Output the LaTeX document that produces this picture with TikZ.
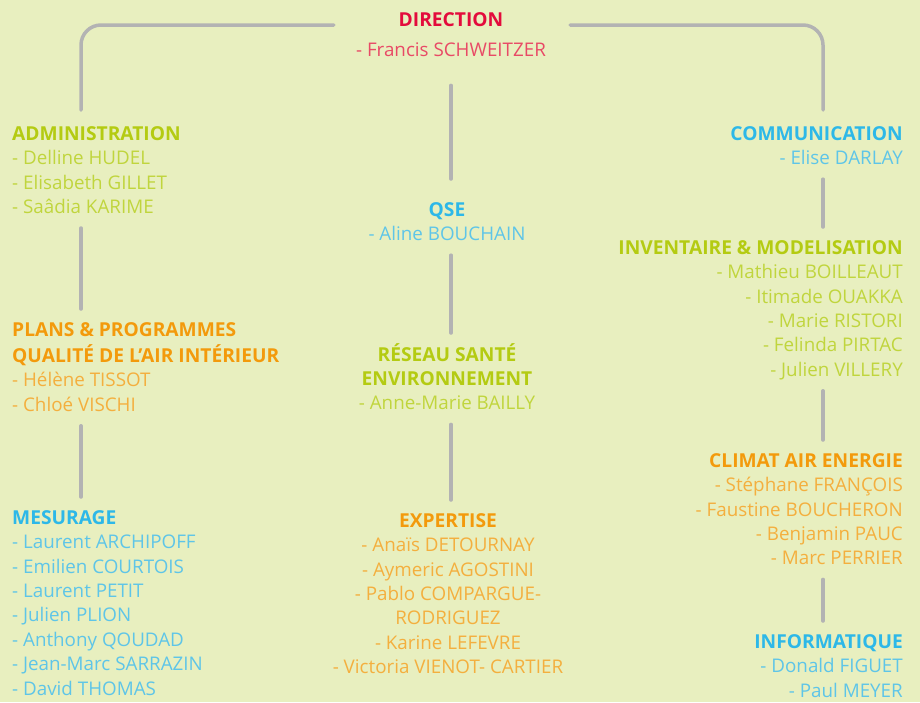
\documentclass[tikz,border=0pt]{standalone}
\usepackage{fontspec}
\setmainfont{Open Sans}
\definecolor{bgyellow}{HTML}{E8EFBF}
\definecolor{linkgrey}{HTML}{B3B3B3}
\definecolor{redhead}{HTML}{E30B3C}
\definecolor{redname}{HTML}{E84A66}
\definecolor{greenhead}{HTML}{B4CB12}
\definecolor{greenname}{HTML}{C0D53D}
\definecolor{bluehead}{HTML}{2DB8E8}
\definecolor{bluename}{HTML}{5EC5E8}
\definecolor{orangehead}{HTML}{F39A0C}
\definecolor{orangename}{HTML}{F4AF3E}
\newcommand{\hd}[2]{\strut\textcolor{#1}{\fontsize{19.2}{24.4}\selectfont\textbf{#2}}}
\tikzset{
  block/.style={inner sep=0pt, font=\fontsize{18.8}{24.4}\selectfont},
  link/.style={line width=3.5pt, color=linkgrey, line cap=round, shorten <=7pt, shorten >=10pt},
}
\begin{document}
\begin{tikzpicture}[x=1pt,y=-1pt]
  \fill[bgyellow] (0,0) rectangle (920,702);
  \useasboundingbox (0,0) rectangle (920,702);
  \coordinate (lx) at (81,0);
  \coordinate (rx) at (823,0);
  % top
  \node[block, font=\fontsize{18.8}{30}\selectfont, anchor=north, align=center, text=redname] (direction) at (451,5)
    {\hd{redhead}{DIRECTION}\\- Francis SCHWEITZER\strut};
  % left column
  \node[block, anchor=north west, align=left, text=greenname] (admin) at (12,123)
    {\hd{greenhead}{ADMINISTRATION}\\- Delline HUDEL\\- Elisabeth GILLET\\- Saâdia KARIME\strut};
  \node[block, anchor=north west, align=left, text=orangename] (plans) at (12,319)
    {\hd{orangehead}{PLANS \& PROGRAMMES}\\\hd{orangehead}{QUALITÉ DE L’AIR INTÉRIEUR}\\- Hélène TISSOT\\- Chloé VISCHI\strut};
  \node[block, anchor=north west, align=left, text=bluename] (mesurage) at (12,507)
    {\hd{bluehead}{MESURAGE}\\- Laurent ARCHIPOFF\\- Emilien COURTOIS\\- Laurent PETIT\\- Julien PLION\\- Anthony QOUDAD\\- Jean-Marc SARRAZIN\\- David THOMAS\strut};
  % centre column
  \node[block, anchor=north, align=center, text=bluename] (qse) at (447,199)
    {\hd{bluehead}{QSE}\\- Aline BOUCHAIN\strut};
  \node[block, anchor=north, align=center, text=greenname] (reseau) at (447,343)
    {\hd{greenhead}{RÉSEAU SANTÉ}\\\hd{greenhead}{ENVIRONNEMENT}\\- Anne-Marie BAILLY\strut};
  \node[block, anchor=north, align=center, text=orangename] (expertise) at (448,510)
    {\hd{orangehead}{EXPERTISE}\\- Anaïs DETOURNAY\\- Aymeric AGOSTINI\\- Pablo COMPARGUE-\\RODRIGUEZ\\- Karine LEFEVRE\\- Victoria VIENOT- CARTIER\strut};
  % right column
  \node[block, anchor=north east, align=right, text=bluename] (comm) at (903,123)
    {\hd{bluehead}{COMMUNICATION}\\- Elise DARLAY\strut};
  \node[block, anchor=north east, align=right, text=greenname] (inventaire) at (903,237)
    {\hd{greenhead}{INVENTAIRE \& MODELISATION}\\- Mathieu BOILLEAUT\\- Itimade OUAKKA\\- Marie RISTORI\\- Felinda PIRTAC\\- Julien VILLERY\strut};
  \node[block, anchor=north east, align=right, text=orangename] (climat) at (903,450)
    {\hd{orangehead}{CLIMAT AIR ENERGIE}\\- Stéphane FRANÇOIS\\- Faustine BOUCHERON\\- Benjamin PAUC\\- Marc PERRIER\strut};
  \node[block, anchor=north east, align=right, text=bluename] (info) at (903,631)
    {\hd{bluehead}{INFORMATIQUE}\\- Donald FIGUET\\- Paul MEYER\strut};
  % links
  \draw[link, rounded corners=20pt, shorten <=22pt, shorten >=13pt] ([yshift=-20pt]direction.north west) -| (admin.north -| lx);
  \draw[link, rounded corners=20pt, shorten <=24pt, shorten >=13pt] ([yshift=-20pt]direction.north east) -| (comm.north -| rx);
  \draw[link, shorten <=20pt, shorten >=20pt] (direction.south) -- (qse.north -| direction.south);
  \draw[link] (admin.south -| lx) -- (plans.north -| lx);
  \draw[link] (plans.south -| lx) -- (mesurage.north -| lx);
  \draw[link] (qse.south -| direction.south) -- (reseau.north -| direction.south);
  \draw[link] (reseau.south -| direction.south) -- (expertise.north -| direction.south);
  \draw[link] (comm.south -| rx) -- (inventaire.north -| rx);
  \draw[link] (inventaire.south -| rx) -- (climat.north -| rx);
  \draw[link] (climat.south -| rx) -- (info.north -| rx);
\end{tikzpicture}
\end{document}
